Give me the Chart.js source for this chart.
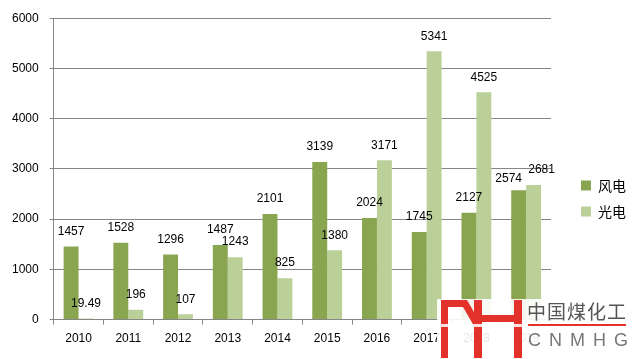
<!DOCTYPE html>
<html>
<head>
<meta charset="utf-8">
<script src="https://cdn.jsdelivr.net/npm/chart.js@4/dist/chart.umd.min.js"></script>
<style>
  body { margin: 0; background: #fff; }
  #wrap { position: relative; width: 632px; height: 359px; }
  #logo { position: absolute; left: 437px; top: 299px; width: 195px; height: 60px; background: rgba(255,255,255,0.9); }
  #logo svg { position: absolute; left: 0; top: 0; }
  #cn { position: absolute; left: 90px; top: 0px; font: 19px "Noto Sans CJK SC", sans-serif; color: #555; letter-spacing: 1px; line-height: 24px; }
  #line { position: absolute; left: 91px; top: 25px; width: 98px; height: 2px; background: #e2322b; }
  #en { position: absolute; left: 91px; top: 29px; font: 18px "Liberation Sans", sans-serif; color: #777; letter-spacing: 8px; line-height: 24px; }
</style>
</head>
<body>
<div id="wrap">
  <canvas id="barChart" width="632" height="359"></canvas>
  <div id="logo">
    <svg width="90" height="60">
      <g fill="#e2322b">
        <rect x="4" y="1" width="7" height="58"/>
        <polygon points="4,1 30,1 41,20 37,27 26,8 4,8"/>
        <rect x="37" y="1" width="8" height="58"/>
        <rect x="45" y="16" width="32" height="7"/>
        <rect x="77" y="1" width="8" height="58"/>
      </g>
      <rect x="0" y="25" width="90" height="3" fill="#fff" opacity="0.85"/>
    </svg>
    <div id="cn">中国煤化工</div>
    <div id="line"></div>
    <div id="en">CNMHG</div>
  </div>
</div>
<script>
const years = ["2010","2011","2012","2013","2014","2015","2016","2017","2018","2019"];
const wind  = [1457, 1528, 1296, 1487, 2101, 3139, 2024, 1745, 2127, 2574];
const solar = [19.49, 196, 107, 1243, 825, 1380, 3171, 5341, 4525, 2681];
const yTicks = [0, 1000, 2000, 3000, 4000, 5000, 6000];

const axisGray = "#868686";

// value labels above the bars; when the two labels of a year would collide,
// push them apart sideways
const valueLabels = {
    id: "valueLabels",
    afterDatasetsDraw(chart){
        let ctx = chart.ctx;
        ctx.save();
        ctx.font = "12px 'Liberation Sans', Arial, sans-serif";
        ctx.fillStyle = "#000";
        ctx.textAlign = "center";
        ctx.textBaseline = "middle";
        let a = chart.getDatasetMeta(0).data;
        let b = chart.getDatasetMeta(1).data;
        a.forEach((barA, j)=>{
            let barB = b[j];
            let ta = String(wind[j]), tb = String(solar[j]);
            let ya = barA.y - 15, yb = barB.y - 15;
            let xa = barA.x, xb = barB.x;
            let wa = ctx.measureText(ta).width, wb = ctx.measureText(tb).width;
            if (Math.abs(ya - yb) < 12 && xa + wa/2 > xb - wb/2) {
                xa -= 10; xb += 8;
                if (ya < yb) yb += 3; else ya += 3;
            }
            ctx.fillText(ta, xa, ya);
            ctx.fillText(tb, xb, yb);
        });
        ctx.restore();
    }
};

// nudge the legend a bit right and down, like the original
const legendShift = {
    id: "legendShift",
    afterLayout(chart){
        let lg = chart.legend;
        lg.left += 18; lg.right += 18;
        lg.top += 13; lg.bottom += 13;
    }
};

new Chart(document.getElementById("barChart"), {
    type: "bar",
    data: {
        labels: years,
        datasets: [
            { label: "风电", data: wind,  backgroundColor: "#8aa54f" },
            { label: "光电", data: solar, backgroundColor: "#bbd098" }
        ]
    },
    options: {
        responsive: false,
        animation: false,
        layout: { padding: { left: 1, top: 18, bottom: 6, right: 14 } },
        datasets: { bar: { categoryPercentage: 0.6, barPercentage: 1 } },
        plugins: {
            tooltip: { enabled: false },
            legend: {
                position: "right",
                labels: {
                    boxWidth: 10, boxHeight: 10, padding: 12,
                    color: "#000",
                    font: { size: 14, family: "'Noto Sans CJK SC', sans-serif" }
                }
            }
        },
        scales: {
            x: {
                grid: { drawOnChartArea: false, tickLength: 5, color: axisGray },
                border: { color: axisGray },
                ticks: { color: "#000", padding: 7, font: { size: 12, family: "'Liberation Sans', Arial" } }
            },
            y: {
                min: 0, max: 6000,
                afterBuildTicks: s => { s.ticks = yTicks.map(v => ({ value: v })); },
                grid: { color: axisGray, tickLength: 4 },
                border: { color: axisGray },
                ticks: {
                    color: "#000", padding: 11,
                    font: { size: 12, family: "'Liberation Sans', Arial" },
                    callback: v => String(v)
                }
            }
        }
    },
    plugins: [valueLabels, legendShift]
});
</script>
</body>
</html>
